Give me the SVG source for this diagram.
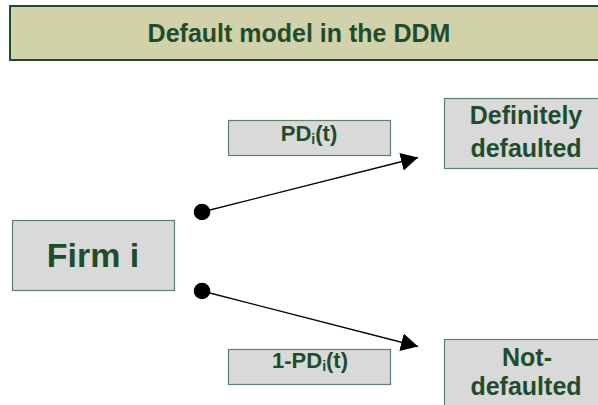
<svg xmlns="http://www.w3.org/2000/svg" width="598" height="405" viewBox="0 0 598 405">
<style>
.box{fill:#d9d9d9;stroke:#5f806b;stroke-width:1.2}
.title{fill:#d2d2aa;stroke:#1e4d2b;stroke-width:2}
.t{font-family:"Liberation Sans",Arial,sans-serif;font-weight:bold;fill:#1e4d2b;text-anchor:middle}
.conn{stroke:#000;stroke-width:1.3;fill:none;marker-end:url(#ah)}
.dot{fill:#000}
</style>
<defs>
<marker id="ah" markerUnits="userSpaceOnUse" markerWidth="20" markerHeight="20" refX="17" refY="9" orient="auto">
<path d="M0,0 L17,9 L0,18 Z" fill="#000"/>
</marker>
</defs>
<g id="title">
<rect class="title" x="10" y="6" width="600" height="54"/>
<text class="t" x="299" y="41.5" font-size="25">Default model in the DDM</text>
</g>
<g id="firm">
<rect class="box" x="12.5" y="220.5" width="162" height="70"/>
<text class="t" x="93" y="267" font-size="34">Firm i</text>
</g>
<g id="pd-label">
<rect class="box" x="228.5" y="120.5" width="162" height="35"/>
<text class="t" x="309" y="141" font-size="22">PD<tspan font-size="14" dy="3">i</tspan><tspan dy="-3">(t)</tspan></text>
</g>
<g id="npd-label">
<rect class="box" x="228.5" y="349.5" width="162" height="35"/>
<text class="t" x="310" y="368" font-size="22">1-PD<tspan font-size="14" dy="3">i</tspan><tspan dy="-3">(t)</tspan></text>
</g>
<g id="defaulted">
<rect class="box" x="444.5" y="98.5" width="170" height="70"/>
<text class="t" x="526" y="124" font-size="25">Definitely</text>
<text class="t" x="526" y="157" font-size="25">defaulted</text>
</g>
<g id="not-defaulted">
<rect class="box" x="444.5" y="339.5" width="170" height="80"/>
<text class="t" x="527" y="366" font-size="25">Not-</text>
<text class="t" x="526" y="395" font-size="25">defaulted</text>
</g>
<g id="connectors">
<circle class="dot" cx="202" cy="212" r="8.3"/>
<circle class="dot" cx="202" cy="291" r="8.3"/>
<line class="conn" x1="202" y1="212" x2="418" y2="157.5"/>
<line class="conn" x1="202" y1="291" x2="418" y2="346.5"/>
</g>
</svg>
